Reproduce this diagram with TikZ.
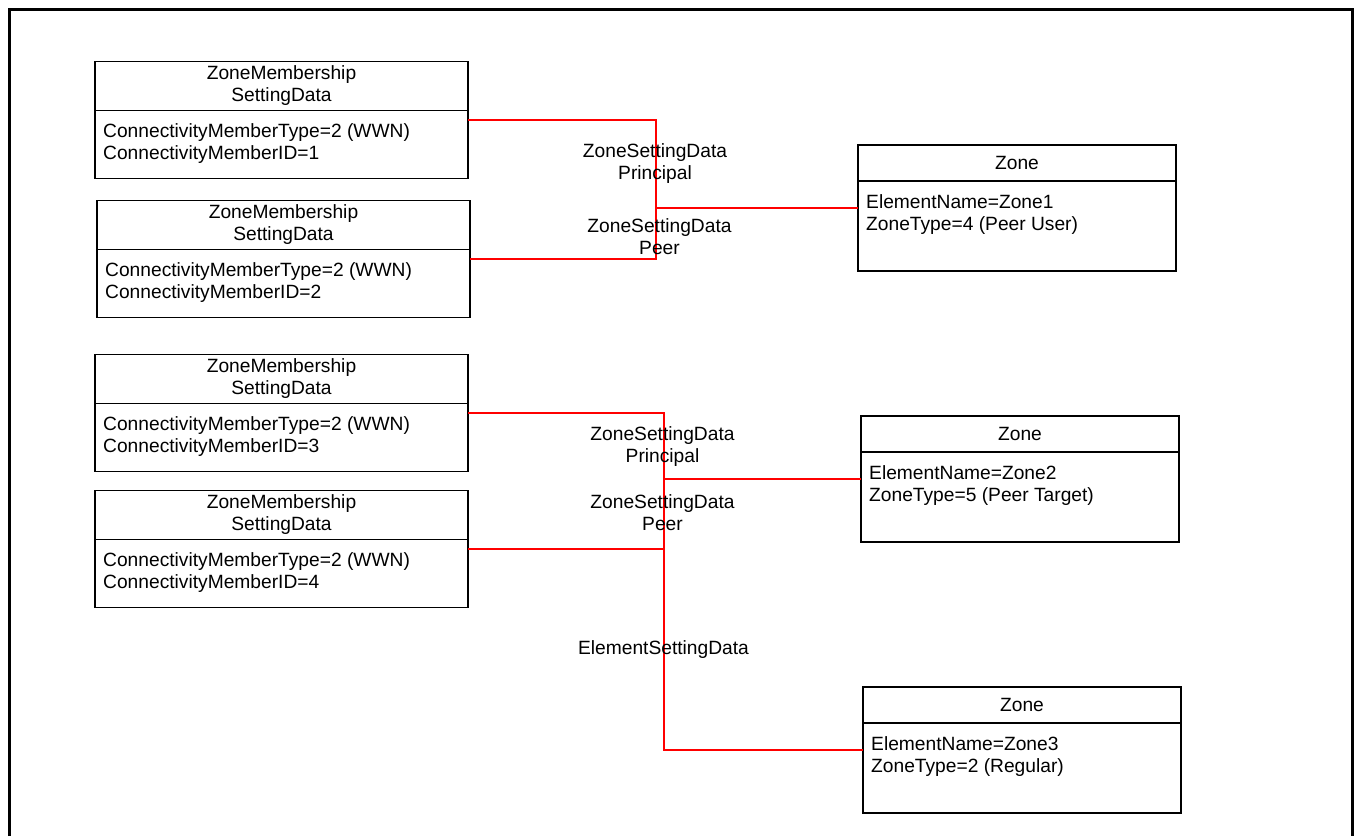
\documentclass[tikz,border=0pt]{standalone}
\usepackage{fontspec}
\setmainfont{Liberation Sans}
\usetikzlibrary{positioning}

\begin{document}
\begin{tikzpicture}[
	x=1pt, y=-1pt,
	font=\fontsize{19.2}{22}\selectfont,
	classbox/.style={draw,line width=1.8pt,inner sep=0pt,outer sep=0pt},
	membox/.style={classbox,minimum width=373pt,minimum height=117pt},
	memhead/.style={classbox,minimum width=373pt,minimum height=49pt,align=center},
	zonebox/.style={classbox,minimum width=318pt,minimum height=126pt},
	zonehead/.style={classbox,minimum width=318pt,minimum height=36pt,align=center},
	attrs/.style={align=left,inner sep=0pt},
	assoc/.style={draw=red,line width=2pt},
	role/.style={align=center,inner sep=0pt}
	]
	\useasboundingbox (0,0) rectangle (1356,836);
	\draw[line width=3pt] (9,836) -- (9,9) -- (1352,9) -- (1352,836);

	% membership setting data
	\node[membox] (zms1) at (281.5,120) {};
	\node[memhead, below=0pt of zms1.north] (zms1h) {ZoneMembership\\SettingData};
	\node[attrs, below right=13pt and 8pt of zms1h.south west] (zms1a) {ConnectivityMemberType=2 (WWN)\\ConnectivityMemberID=1};

	\node[membox, below=22pt of zms1, xshift=2pt] (zms2) {};
	\node[memhead, below=0pt of zms2.north] (zms2h) {ZoneMembership\\SettingData};
	\node[attrs, below right=13pt and 8pt of zms2h.south west] (zms2a) {ConnectivityMemberType=2 (WWN)\\ConnectivityMemberID=2};

	\node[membox] (zms3) at (281.5,413) {};
	\node[memhead, below=0pt of zms3.north] (zms3h) {ZoneMembership\\SettingData};
	\node[attrs, below right=13pt and 8pt of zms3h.south west] (zms3a) {ConnectivityMemberType=2 (WWN)\\ConnectivityMemberID=3};

	\node[membox, below=19pt of zms3] (zms4) {};
	\node[memhead, below=0pt of zms4.north] (zms4h) {ZoneMembership\\SettingData};
	\node[attrs, below right=13pt and 8pt of zms4h.south west] (zms4a) {ConnectivityMemberType=2 (WWN)\\ConnectivityMemberID=4};

	% zones
	\node[zonebox] (zone1) at (1017,208) {};
	\node[zonehead, below=0pt of zone1.north] (zone1h) {Zone};
	\node[attrs, below right=13pt and 8pt of zone1h.south west] (zone1a) {ElementName=Zone1\\ZoneType=4 (Peer User)};

	\node[zonebox] (zone2) at (1020,479) {};
	\node[zonehead, below=0pt of zone2.north] (zone2h) {Zone};
	\node[attrs, below right=13pt and 8pt of zone2h.south west] (zone2a) {ElementName=Zone2\\ZoneType=5 (Peer Target)};

	\node[zonebox] (zone3) at (1022,750) {};
	\node[zonehead, below=0pt of zone3.north] (zone3h) {Zone};
	\node[attrs, below right=13pt and 8pt of zone3h.south west] (zone3a) {ElementName=Zone3\\ZoneType=2 (Regular)};

	% associations
	\coordinate (join1) at (656,208);
	\coordinate (join2) at (664,479);
	\path[assoc]
	(zms1.east) -| (join1)
	(zms2.east) -| (join1)
	(join1) -- (zone1.west)
	(zms3.east) -| (join2)
	(zms4.east) -| (join2)
	(join2) -- (zone2.west)
	(join2) |- (zone3.west);

	\node[role] (princ1) at (655,164) {ZoneSettingData\\Principal};
	\node[role] (peer1) at (659.5,236.5) {ZoneSettingData\\Peer};
	\node[role] (princ2) at (662.5,447) {ZoneSettingData\\Principal};
	\node[role] (peer2) at (662.5,513) {ZoneSettingData\\Peer};
	\node[role] (elem3) at (663.5,650) {ElementSettingData};
\end{tikzpicture}
\end{document}
